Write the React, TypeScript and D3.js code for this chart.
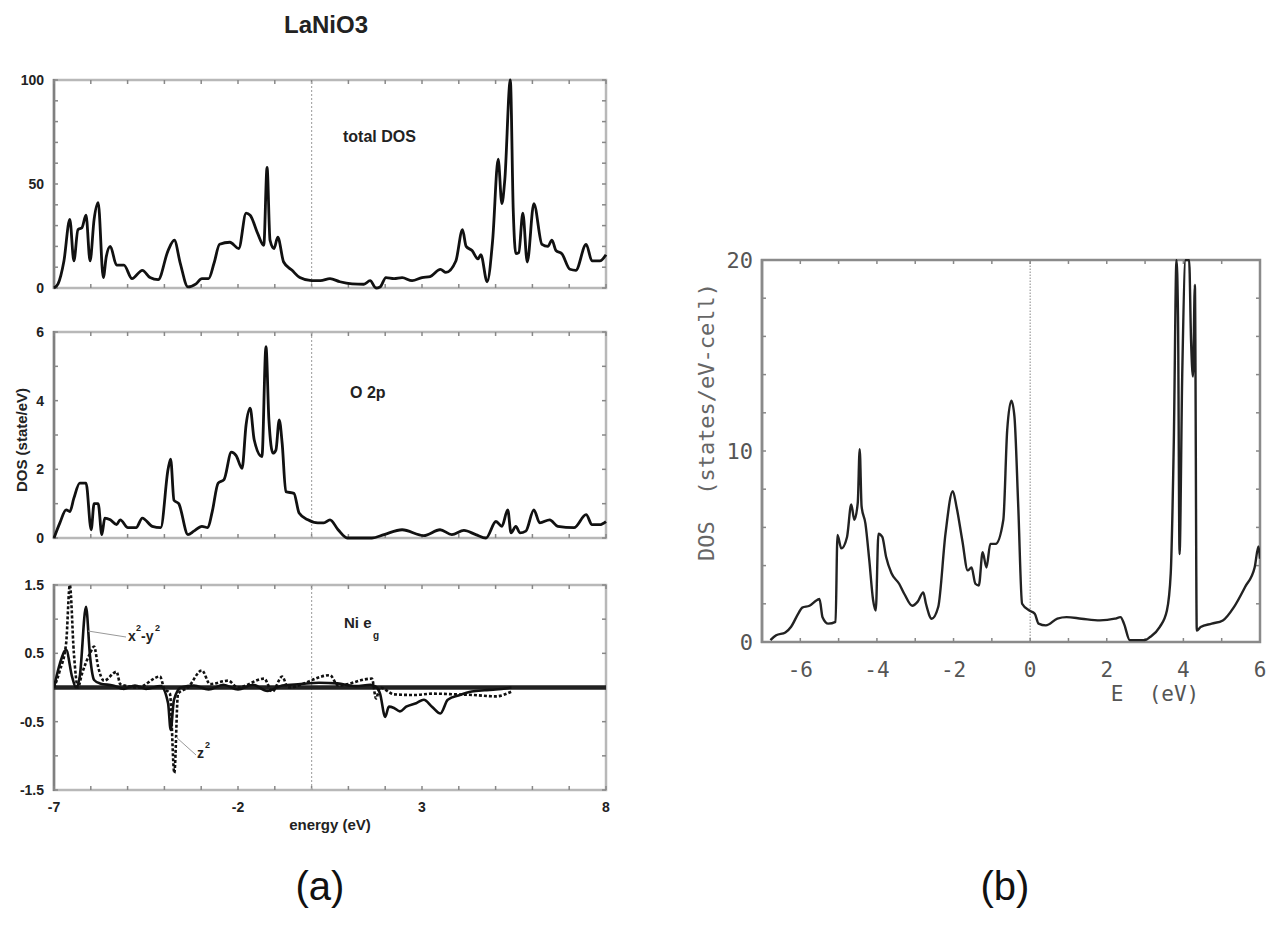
import React from 'react';
import * as d3 from 'd3';

// ---------- data (energy in eV, DOS value) ----------
const totalDos: [number, number][] = [
  [-7, 0], [-6.89, 2], [-6.73, 13], [-6.57, 33], [-6.46, 13], [-6.35, 28], [-6.24, 29], [-6.13, 35],
  [-6.02, 13], [-5.91, 33], [-5.8, 41], [-5.66, 5], [-5.58, 15], [-5.47, 20], [-5.3, 11], [-5.1, 11],
  [-4.88, 4.5], [-4.6, 8.5], [-4.39, 5], [-4.17, 4], [-3.9, 18], [-3.73, 23], [-3.57, 12], [-3.36, 0.5],
  [-3.14, 2], [-2.98, 4.5], [-2.8, 4.5], [-2.65, 12], [-2.5, 21], [-2.22, 22], [-1.98, 19], [-1.78, 36],
  [-1.67, 35], [-1.46, 26], [-1.3, 20.5], [-1.21, 58], [-1.13, 23], [-1.02, 19], [-0.92, 24.5],
  [-0.76, 12.5], [-0.53, 8.5], [-0.32, 5], [0, 3.5], [0.24, 3.5], [0.5, 4.5], [0.77, 3], [1.1, 2],
  [1.42, 1.8], [1.59, 3.5], [1.75, 0], [1.86, 0.5], [2.02, 5], [2.24, 4.5], [2.46, 5], [2.73, 3.5],
  [3.0, 5], [3.22, 5.5], [3.5, 9], [3.65, 7.5], [3.92, 13], [4.1, 28], [4.2, 20], [4.36, 18], [4.52, 14],
  [4.6, 16], [4.77, 3], [4.92, 23], [5.07, 62], [5.17, 40.6], [5.25, 52], [5.4, 100], [5.48, 37],
  [5.55, 16.5], [5.63, 17], [5.74, 36], [5.86, 12.5], [6.04, 40.6], [6.26, 21], [6.42, 20], [6.53, 23],
  [6.64, 18], [6.8, 16.5], [7.02, 9], [7.18, 8.5], [7.46, 21], [7.62, 13], [7.83, 13], [8, 16],
];

const o2pDos: [number, number][] = [
  [-7, 0], [-6.84, 0.44], [-6.67, 0.82], [-6.57, 0.77], [-6.46, 1.16], [-6.3, 1.6], [-6.13, 1.6],
  [-5.99, 0.24], [-5.91, 1.0], [-5.8, 1.0], [-5.7, 0.1], [-5.62, 0.58], [-5.47, 0.53], [-5.3, 0.39],
  [-5.2, 0.53], [-4.99, 0.3], [-4.77, 0.3], [-4.6, 0.58], [-4.33, 0.34], [-4.1, 0.3], [-3.9, 2.0],
  [-3.83, 2.3], [-3.74, 1.1], [-3.61, 1.0], [-3.36, 0.1], [-3.2, 0.2], [-2.98, 0.34], [-2.82, 0.3],
  [-2.7, 0.77], [-2.54, 1.6], [-2.38, 1.7], [-2.18, 2.5], [-2.05, 2.4], [-1.89, 2.03], [-1.78, 3.3],
  [-1.67, 3.78], [-1.56, 2.86], [-1.35, 2.37], [-1.24, 5.57], [-1.16, 3.44], [-1.05, 2.47],
  [-0.97, 2.56], [-0.88, 3.44], [-0.8, 2.76], [-0.7, 1.35], [-0.48, 1.3], [-0.34, 0.73], [-0.1, 0.53],
  [0.17, 0.44], [0.33, 0.44], [0.5, 0.53], [0.72, 0.24], [0.97, 0], [1.64, 0], [1.97, 0.1],
  [2.46, 0.24], [3.05, 0.07], [3.49, 0.24], [3.81, 0.1], [4.14, 0.22], [4.46, 0.1], [4.74, 0],
  [5.01, 0.48], [5.17, 0.34], [5.33, 0.82], [5.42, 0.15], [5.55, 0.34], [5.66, 0.15], [5.82, 0.2],
  [6.04, 0.82], [6.2, 0.44], [6.47, 0.53], [6.69, 0.34], [7.13, 0.3], [7.46, 0.68], [7.62, 0.39],
  [7.83, 0.39], [8, 0.48],
];

const egX2y2: [number, number][] = [
  [-7, 0], [-6.84, 0.35], [-6.67, 0.55], [-6.51, 0.16], [-6.4, 0], [-6.3, 0.16], [-6.13, 1.18],
  [-6.02, 0.45], [-5.91, 0.11], [-5.75, 0.06], [-5.4, 0.03], [-5.1, -0.02], [-4.8, 0.03], [-4.5, -0.02],
  [-4.1, 0.02], [-3.9, -0.23], [-3.83, -0.62], [-3.74, -0.18], [-3.55, 0], [-3.2, 0.03], [-2.8, -0.03],
  [-2.4, 0.04], [-2.0, -0.03], [-1.6, 0.04], [-1.2, -0.05], [-0.8, 0.03], [-0.3, 0.05], [0.2, 0.07],
  [0.7, 0.06], [1.2, 0.02], [1.6, 0.04], [1.75, 0.01], [1.86, -0.09], [2.0, -0.43], [2.1, -0.28],
  [2.24, -0.3], [2.4, -0.35], [2.57, -0.28], [2.84, -0.23], [3.05, -0.18], [3.27, -0.28], [3.5, -0.38],
  [3.7, -0.18], [4.03, -0.11], [4.35, -0.06], [4.7, -0.04], [5.0, -0.03], [5.43, 0],
];

const egZ2: [number, number][] = [
  [-7, 0], [-6.84, 0.25], [-6.67, 0.65], [-6.57, 1.5], [-6.46, 0.5], [-6.35, 0], [-6.24, 0.2],
  [-6.02, 0.5], [-5.91, 0.6], [-5.8, 0.3], [-5.64, 0.1], [-5.3, 0.23], [-5.2, 0.05], [-4.99, 0.02],
  [-4.72, 0], [-4.12, 0.16], [-4.01, -0.01], [-3.85, -0.09], [-3.73, -1.25], [-3.63, -0.09],
  [-3.36, 0], [-2.98, 0.25], [-2.76, 0.05], [-2.27, 0.1], [-2.0, 0], [-1.29, 0.13], [-1.07, -0.06],
  [-0.8, 0.16], [-0.64, 0], [0.5, 0.18], [0.72, 0.03], [1.64, 0.13], [1.75, -0.16], [1.86, 0],
  [2.24, -0.1], [2.8, -0.11], [3.3, -0.09], [3.9, -0.1], [4.4, -0.11], [5.0, -0.13], [5.43, -0.06],
];

const lanioDos: [number, number][] = [
  [-6.78, 0.1], [-6.63, 0.35], [-6.39, 0.5], [-6.24, 0.8], [-6.05, 1.5], [-5.95, 1.8], [-5.76, 1.9],
  [-5.56, 2.2], [-5.5, 2.25], [-5.42, 1.3], [-5.27, 0.96], [-5.08, 1.05], [-5.03, 5.6], [-4.93, 4.9],
  [-4.78, 5.5], [-4.67, 7.2], [-4.59, 6.4], [-4.5, 7.3], [-4.45, 10.1], [-4.4, 7.1], [-4.3, 6.2],
  [-4.2, 4.3], [-4.1, 2.2], [-4.03, 1.65], [-3.96, 5.67], [-3.86, 5.5], [-3.76, 4.45], [-3.62, 3.6],
  [-3.42, 3.05], [-3.28, 2.5], [-3.08, 1.9], [-2.94, 2.1], [-2.79, 2.6], [-2.72, 2.0], [-2.57, 1.22],
  [-2.4, 1.83], [-2.21, 5.67], [-2.02, 7.9], [-1.92, 7.06], [-1.77, 5.3], [-1.63, 3.75], [-1.53, 3.9],
  [-1.43, 3.05], [-1.34, 2.96], [-1.24, 4.7], [-1.14, 3.9], [-1.04, 5.14], [-0.9, 5.14], [-0.7, 6.4],
  [-0.6, 11.07], [-0.49, 12.64], [-0.41, 11.8], [-0.31, 7.06], [-0.21, 2.0], [-0.02, 1.65],
  [0.12, 1.48], [0.22, 0.96], [0.41, 0.87], [0.71, 1.22], [0.95, 1.3], [1.34, 1.22], [1.82, 1.13],
  [2.21, 1.22], [2.36, 1.3], [2.45, 0.96], [2.6, 0.1], [2.99, 0.1], [3.13, 0.26], [3.38, 0.78],
  [3.57, 1.65], [3.67, 3.6], [3.75, 10.5], [3.82, 20], [3.86, 17], [3.9, 4.6], [3.97, 14], [4.06, 20],
  [4.15, 20], [4.2, 15.8], [4.25, 13.9], [4.3, 18.7], [4.35, 0.6], [4.45, 0.78], [4.74, 0.96],
  [5.03, 1.13], [5.32, 1.83], [5.61, 2.88], [5.86, 3.9], [5.96, 5.0], [6.0, 4.36],
];

const aXTicks = [-7, -2, 3, 8];
const totalTicks = [0, 50, 100];
const o2pTicks = [0, 2, 4, 6];
const egTicks = [1.5, 0.5, -0.5, -1.5];
const bXTicks = [-6, -4, -2, 0, 2, 4, 6];
const bYTicks = [0, 10, 20];

const FA = '"Liberation Sans", Arial, sans-serif';
const FB = '"DejaVu Sans Mono", monospace';

function Frame({ x, y, minor, ticksY, color = '#b8b8b8', leftColor = '#808080' }: any) {
  const [x0, x1] = x.range();
  const [y0, y1] = y.range();
  const tl = 4;
  return (
    <g>
      <rect x={x0} y={y1} width={x1 - x0} height={y0 - y1} fill="none" stroke={color} strokeWidth={2.5} />
      <line x1={x0} x2={x0} y1={y0 + 1} y2={y1 - 1} stroke={leftColor} strokeWidth={2.5} />
      {minor.map((t: number, i: number) => (
        <g key={'x' + i}>
          <line x1={x(t)} x2={x(t)} y1={y0} y2={y0 - tl} stroke="#888" strokeWidth={1.5} />
          <line x1={x(t)} x2={x(t)} y1={y1} y2={y1 + tl} stroke="#888" strokeWidth={1.5} />
        </g>
      ))}
      {ticksY.map((t: number, i: number) => (
        <g key={'y' + i}>
          <line x1={x0} x2={x0 + tl} y1={y(t)} y2={y(t)} stroke="#888" strokeWidth={1.5} />
          <line x1={x1} x2={x1 - tl} y1={y(t)} y2={y(t)} stroke="#888" strokeWidth={1.5} />
        </g>
      ))}
    </g>
  );
}

export default function App() {
  const xA = d3.scaleLinear().domain([-7, 8]).range([54, 606]);
  const y1 = d3.scaleLinear().domain([0, 100]).range([288, 80]);
  const y2 = d3.scaleLinear().domain([0, 6]).range([538, 332]);
  const y3 = d3.scaleLinear().domain([-1.5, 1.5]).range([790, 585]);
  const xB = d3.scaleLinear().domain([-7, 6]).range([762, 1260]);
  const yB = d3.scaleLinear().domain([0, 20]).range([642, 260]);

  const mk = (xs: any, ys: any) =>
    d3.line<[number, number]>().x((d) => xs(d[0])).y((d) => ys(d[1])).curve(d3.curveMonotoneX);
  const minorA = d3.range(-7, 8.01, 1);
  const minorB = d3.range(-7, 6.01, 1);

  const tA = { fontFamily: FA, fontWeight: 'bold' as const, fill: '#222' };

  return (
    <svg width={1267} height={929} style={{ position: 'absolute', left: 0, top: 0, background: '#fff' }}>
      <rect width={1267} height={929} fill="#fff" />
      {/* ---------- panel (a) ---------- */}
      <text x={326} y={33} textAnchor="middle" {...tA} fontSize={24}>LaNiO3</text>

      {/* total DOS */}
      <Frame x={xA} y={y1} minor={minorA} ticksY={d3.range(0, 100.1, 10)} />
      <line x1={xA(0)} x2={xA(0)} y1={y1(0)} y2={y1(100)} stroke="#aaa" strokeWidth={1.2} strokeDasharray="2,2" />
      <path d={mk(xA, y1)(totalDos) || ''} fill="none" stroke="#111" strokeWidth={2.8} strokeLinejoin="round" />
      {totalTicks.map((t) => (
        <text key={t} x={44} y={y1(t) + 5} textAnchor="end" {...tA} fontSize={14}>{t}</text>
      ))}
      <text x={343} y={142} {...tA} fontSize={16}>total DOS</text>

      {/* O 2p */}
      <Frame x={xA} y={y2} minor={minorA} ticksY={d3.range(0, 6.01, 1)} />
      <line x1={xA(0)} x2={xA(0)} y1={y2(0)} y2={y2(6)} stroke="#aaa" strokeWidth={1.2} strokeDasharray="2,2" />
      <path d={mk(xA, y2)(o2pDos) || ''} fill="none" stroke="#111" strokeWidth={2.8} strokeLinejoin="round" />
      {o2pTicks.map((t) => (
        <text key={t} x={44} y={y2(t) + 5} textAnchor="end" {...tA} fontSize={14}>{t}</text>
      ))}
      <text x={350} y={398} {...tA} fontSize={16}>O 2p</text>
      <text transform={`translate(27,440) rotate(-90)`} textAnchor="middle" {...tA} fontSize={15}>DOS (state/eV)</text>

      {/* Ni eg */}
      <Frame x={xA} y={y3} minor={minorA} ticksY={d3.range(-1.5, 1.51, 0.5)} />
      <line x1={xA(0)} x2={xA(0)} y1={y3(-1.5)} y2={y3(1.5)} stroke="#aaa" strokeWidth={1.2} strokeDasharray="2,2" />
      <line x1={xA(-7)} x2={xA(8)} y1={y3(0)} y2={y3(0)} stroke="#222" strokeWidth={4.5} />
      <clipPath id="clip3"><rect x={54} y={585} width={552} height={205} /></clipPath>
      <g clipPath="url(#clip3)">
        <path d={mk(xA, y3)(egZ2) || ''} fill="none" stroke="#111" strokeWidth={2.6} strokeDasharray="3,2" />
        <path d={mk(xA, y3)(egX2y2) || ''} fill="none" stroke="#111" strokeWidth={2.6} strokeLinejoin="round" />
      </g>
      {egTicks.map((t) => (
        <text key={t} x={44} y={y3(t) + 5} textAnchor="end" {...tA} fontSize={14}>{t}</text>
      ))}
      {aXTicks.map((t) => (
        <text key={t} x={xA(t)} y={812} textAnchor="middle" {...tA} fontSize={14}>{t}</text>
      ))}
      <text x={330} y={830} textAnchor="middle" {...tA} fontSize={15}>energy (eV)</text>
      <text x={344} y={628} {...tA} fontSize={15}>Ni e</text>
      <text x={373} y={639} {...tA} fontSize={10}>g</text>
      <line x1={88} y1={631} x2={126} y2={637} stroke="#999" strokeWidth={1} />
      <text x={128} y={641} {...tA} fontSize={14}>x</text>
      <text x={136} y={631} {...tA} fontSize={9}>2</text>
      <text x={141} y={641} {...tA} fontSize={14}>-y</text>
      <text x={155} y={631} {...tA} fontSize={9}>2</text>
      <line x1={176} y1={737} x2={196} y2={755} stroke="#999" strokeWidth={1} />
      <text x={197} y={758} {...tA} fontSize={14}>z</text>
      <text x={205} y={748} {...tA} fontSize={9}>2</text>

      {/* ---------- panel (b) ---------- */}
      <Frame x={xB} y={yB} minor={minorB} ticksY={d3.range(0, 20.1, 2)} color="#8a8a8a" leftColor="#8a8a8a" />
      <line x1={xB(0)} x2={xB(0)} y1={yB(0)} y2={yB(20)} stroke="#888" strokeWidth={1} strokeDasharray="1.5,1.5" />
      <clipPath id="clipB"><rect x={762} y={259} width={498} height={384} /></clipPath>
      <g clipPath="url(#clipB)">
        <path d={mk(xB, yB)(lanioDos) || ''} fill="none" stroke="#222" strokeWidth={2.4} strokeLinejoin="round" />
      </g>
      {bYTicks.map((t) => (
        <text key={t} x={753} y={yB(t) + 8} textAnchor="end" fontFamily={FB} fontSize={22} fill="#555">{t}</text>
      ))}
      {bXTicks.map((t) => (
        <text key={t} x={xB(t)} y={677} textAnchor="middle" fontFamily={FB} fontSize={21} fill="#555">{t}</text>
      ))}
      <text x={1155} y={701} textAnchor="middle" fontFamily={FB} fontSize={21} fill="#555" xmlSpace="preserve">E  (eV)</text>
      <text transform={`translate(714,422) rotate(-90)`} textAnchor="middle" fontFamily={FB} fontSize={22} fill="#666" xmlSpace="preserve">DOS  (states/eV-cell)</text>

      {/* captions */}
      <text x={320} y={900} textAnchor="middle" fontFamily={FA} fontSize={40} fill="#111">(a)</text>
      <text x={1005} y={900} textAnchor="middle" fontFamily={FA} fontSize={40} fill="#111">(b)</text>
    </svg>
  );
}
